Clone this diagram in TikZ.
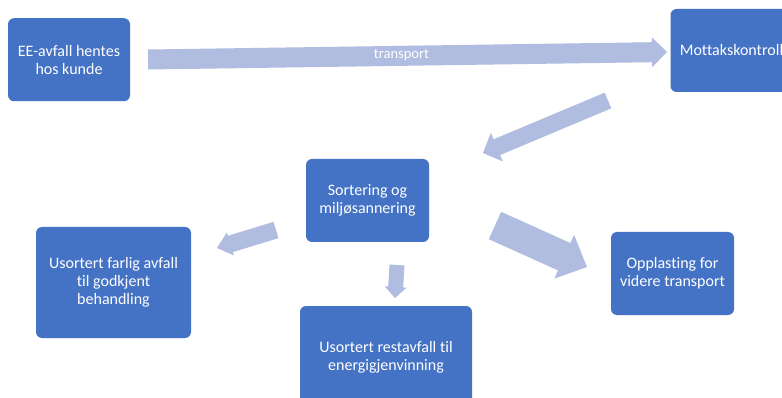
\documentclass[tikz,border=0pt]{standalone}
\usepackage{fontspec}
\setmainfont{Carlito}[Ligatures=NoCommon]
\usetikzlibrary{calc}
\definecolor{boxblue}{HTML}{4472C4}
\definecolor{arrowblue}{HTML}{B0BCE0}
\tikzset{
  procbox/.style={fill=boxblue, rounded corners=6pt, text=white, align=center,
    inner sep=0pt, font=\fontsize{16}{18}\selectfont},
  blockfill/.style={fill=arrowblue}
}
% #1 start, #2 tip, #3 shaft half width, #4 head half width, #5 head length
\newcommand\blockarrow[5]{%
  \path[blockfill] let \p1=($(#2)-(#1)$), \n1={atan2(\y1,\x1)} in
    ($(#1)+(\n1+90:#3)$) --
    ($(#2)+(\n1+180:#5)+(\n1+90:#3)$) --
    ($(#2)+(\n1+180:#5)+(\n1+90:#4)$) --
    (#2) --
    ($(#2)+(\n1+180:#5)+(\n1-90:#4)$) --
    ($(#2)+(\n1+180:#5)+(\n1-90:#3)$) --
    ($(#1)+(\n1-90:#3)$) -- cycle;
}
\begin{document}
\begin{tikzpicture}[x=1pt,y=-1pt]
\useasboundingbox (0,0) rectangle (782,398);
\clip (0,0) rectangle (782,398);
\fill[white] (0,0) rectangle (782,398);

\node[procbox, minimum width=122pt, minimum height=83pt] (ee) at (69,59.75) {EE-avfall hentes\\hos kunde};
\node[procbox, minimum width=122pt, minimum height=83pt] (mot) at (731.5,50.5) {Mottakskontroll};
\node[procbox, minimum width=123pt, minimum height=83pt] (sort) at (367.5,200.5) {Sortering og\\miljøsannering};
\node[procbox, minimum width=155pt, minimum height=111pt] (farl) at (113.5,282.5) {Usortert farlig avfall\\til godkjent\\behandling};
\node[procbox, minimum width=172pt, minimum height=102pt] (rest) at (386,357) {Usortert restavfall til\\energigjenvinning};
\node[procbox, minimum width=123pt, minimum height=83pt] (opp) at (672.5,273.5) {Opplasting for\\videre transport};

\coordinate (a1s) at (148,59.5);
\coordinate (a1e) at (667,52);
\coordinate (a2s) at (608,100.5);
\coordinate (a2e) at (483,153);
\coordinate (a3s) at (276,230);
\coordinate (a3e) at (217,248);
\coordinate (a4s) at (397,265);
\coordinate (a4e) at (395,298);
\coordinate (a5s) at (495,225.5);
\coordinate (a5e) at (587,267);

\blockarrow{a1s}{a1e}{10pt}{15pt}{15pt}
\blockarrow{a2s}{a2e}{8.5pt}{15.5pt}{15pt}
\blockarrow{a3s}{a3e}{8.5pt}{12pt}{14pt}
\blockarrow{a4s}{a4e}{7.5pt}{11pt}{11pt}
\blockarrow{a5s}{a5e}{15pt}{24pt}{25pt}

\node[text=white, font=\fontsize{14.5}{16}\selectfont, inner sep=0pt] (tlab) at (401.5,55) {transport};
\end{tikzpicture}
\end{document}
